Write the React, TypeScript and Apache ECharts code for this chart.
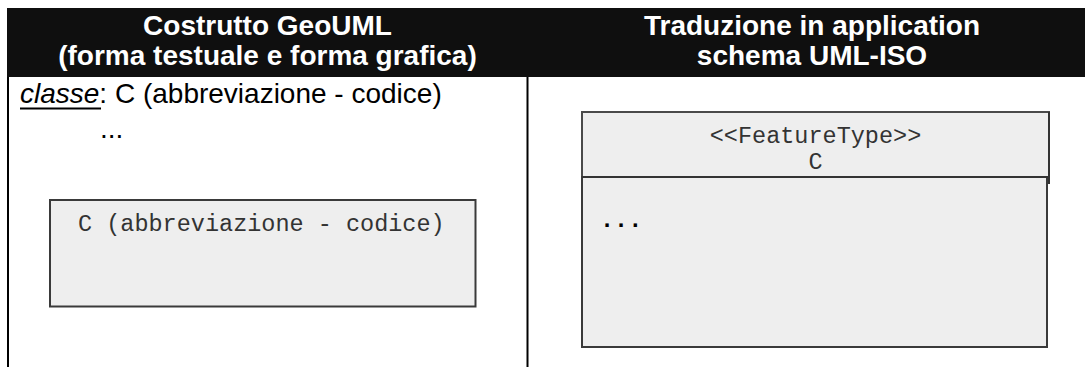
import React, { useEffect, useRef } from "react";
import * as echarts from "echarts";

const headerLeft = ["Costrutto GeoUML", "(forma testuale e forma grafica)"];
const headerRight = ["Traduzione in application", "schema UML-ISO"];
const classLabel = "classe";
const classText = ": C (abbreviazione - codice)";
const leftEllipsis = "...";
const graphicBoxText = "C (abbreviazione - codice)";
const umlHeader = ["<<FeatureType>>", "C"];
const umlBody = "...";

const SANS = "'Liberation Sans', Arial, sans-serif";
const MONO = "'Liberation Mono', 'Courier New', monospace";

export default function App() {
  const ref = useRef<HTMLDivElement>(null);
  useEffect(() => {
    if (!ref.current) return;
    const chart = echarts.init(ref.current, undefined, { renderer: "svg", width: 1085, height: 367 });
    const hdr = (lines: string[], cx: number) =>
      lines.map((t, i) => ({
        type: "text",
        style: {
          text: t,
          x: cx,
          y: 25.7 + i * 30,
          fill: "#ffffff",
          font: `bold 28px ${SANS}`,
          align: "center",
          verticalAlign: "middle",
        },
      }));
    const lineStyle = { stroke: "#000", lineWidth: 2 };
    const boxStroke = "#3a3a3a";
    chart.setOption({
      animation: false,
      backgroundColor: "#ffffff",
      graphic: [
        { type: "rect", shape: { x: 7, y: 8, width: 1078, height: 69 }, style: { fill: "#0f0f0f" } },
        ...hdr(headerLeft, 267.5),
        ...hdr(headerRight, 812),
        { type: "line", shape: { x1: 8, y1: 77, x2: 8, y2: 367 }, style: lineStyle },
        { type: "line", shape: { x1: 527.5, y1: 77, x2: 527.5, y2: 367 }, style: lineStyle },
        {
          type: "text",
          style: {
            text: `{i|${classLabel}}${classText}`,
            x: 20,
            y: 93.7,
            fill: "#000",
            font: `28px ${SANS}`,
            verticalAlign: "middle",
            rich: {
              i: { fontStyle: "italic", fontSize: 28, fontFamily: SANS, fill: "#000" },
            },
          },
        },
        { type: "line", shape: { x1: 20, y1: 108.5, x2: 101, y2: 108.5 }, style: { stroke: "#000", lineWidth: 2 } },
        {
          type: "text",
          style: { text: leftEllipsis, x: 100, y: 128.2, fill: "#000", font: `28px ${SANS}`, verticalAlign: "middle" },
        },
        // left graphic box
        { type: "rect", shape: { x: 50, y: 200, width: 425.5, height: 106.5 }, style: { fill: "#eeeeee", stroke: boxStroke, lineWidth: 2 } },
        {
          type: "text",
          style: { text: graphicBoxText, x: 78, y: 224.5, fill: "#333", font: `23.5px ${MONO}`, verticalAlign: "middle" },
        },
        // right UML box
        { type: "rect", shape: { x: 582, y: 112, width: 467, height: 65 }, style: { fill: "#eeeeee", stroke: "#4a4a4a", lineWidth: 2 } },
        { type: "rect", shape: { x: 582, y: 177, width: 465, height: 170 }, style: { fill: "#eeeeee", stroke: boxStroke, lineWidth: 2 } },
        { type: "line", shape: { x1: 582, y1: 177, x2: 1050, y2: 177 }, style: { stroke: "#333", lineWidth: 2 } },
        { type: "line", shape: { x1: 1049, y1: 112, x2: 1049, y2: 184 }, style: { stroke: "#333", lineWidth: 2 } },
        ...umlHeader.map((t, i) => ({
          type: "text",
          style: {
            text: t,
            x: 815.5,
            y: 136.5 + i * 26,
            fill: "#333",
            font: `23.5px ${MONO}`,
            align: "center",
            verticalAlign: "middle",
          },
        })),
        {
          type: "text",
          style: { text: umlBody, x: 600, y: 220.7, fill: "#000", font: `bold 23.5px ${MONO}`, verticalAlign: "middle" },
        },
      ],
    });
    return () => chart.dispose();
  }, []);
  return (
    <div
      ref={ref}
      style={{ position: "fixed", left: 0, top: 0, width: 1085, height: 367, background: "#fff" }}
    />
  );
}
